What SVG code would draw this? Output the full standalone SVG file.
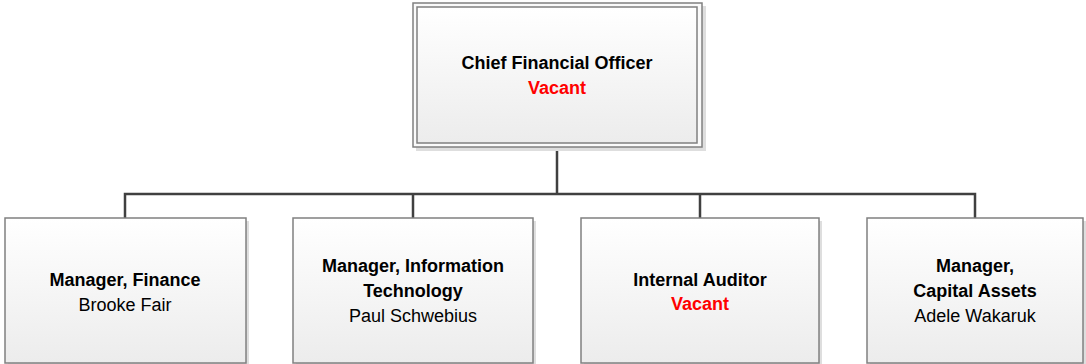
<svg xmlns="http://www.w3.org/2000/svg" width="1086" height="364" viewBox="0 0 1086 364">
<defs>
<linearGradient id="g" x1="0" y1="0" x2="0" y2="1">
<stop offset="0" stop-color="#ffffff"/>
<stop offset="1" stop-color="#ececec"/>
</linearGradient>
</defs>
<style>
.box{fill:url(#g);stroke:#808080;stroke-width:1.5}
.outer{fill:#fafafa;stroke:#808080;stroke-width:1.5}
.sh{fill:#dedede}
.t{font-family:"Liberation Sans",Arial,sans-serif;font-size:18px;text-anchor:middle;fill:#000}
.b{font-weight:bold}
.v{font-weight:bold;fill:#ff0000}
.c{fill:none;stroke:#404040;stroke-width:2.5}
</style>
<g id="connectors">
<path class="c" d="M557,147 V194 M125,218 V194 H975 V218 M413,194 V218 M700,194 V218"/>
</g>
<g id="cfo">
<rect class="sh" x="416" y="6" width="290" height="145"/>
<rect class="outer" x="413" y="3" width="289" height="144"/>
<rect class="box" x="417" y="7" width="280" height="136"/>
<text class="t b" x="557" y="69">Chief Financial Officer</text>
<text class="t v" x="557" y="94">Vacant</text>
</g>
<g id="finance">
<rect class="sh" x="8" y="221" width="241" height="145"/>
<rect class="box" x="5" y="218" width="241" height="145"/>
<text class="t b" x="125" y="286">Manager, Finance</text>
<text class="t" x="125" y="311">Brooke Fair</text>
</g>
<g id="it">
<rect class="sh" x="296" y="221" width="240" height="145"/>
<rect class="box" x="293" y="218" width="240" height="145"/>
<text class="t b" x="413" y="272">Manager, Information</text>
<text class="t b" x="413" y="297">Technology</text>
<text class="t" x="413" y="322">Paul Schwebius</text>
</g>
<g id="auditor">
<rect class="sh" x="584" y="221" width="238" height="145"/>
<rect class="box" x="581" y="218" width="238" height="145"/>
<text class="t b" x="700" y="286">Internal Auditor</text>
<text class="t v" x="700" y="310">Vacant</text>
</g>
<g id="capital">
<rect class="sh" x="870" y="221" width="216" height="145"/>
<rect class="box" x="867" y="218" width="216" height="145"/>
<text class="t b" x="975" y="272">Manager,</text>
<text class="t b" x="975" y="297">Capital Assets</text>
<text class="t" x="975" y="322">Adele Wakaruk</text>
</g>
</svg>
